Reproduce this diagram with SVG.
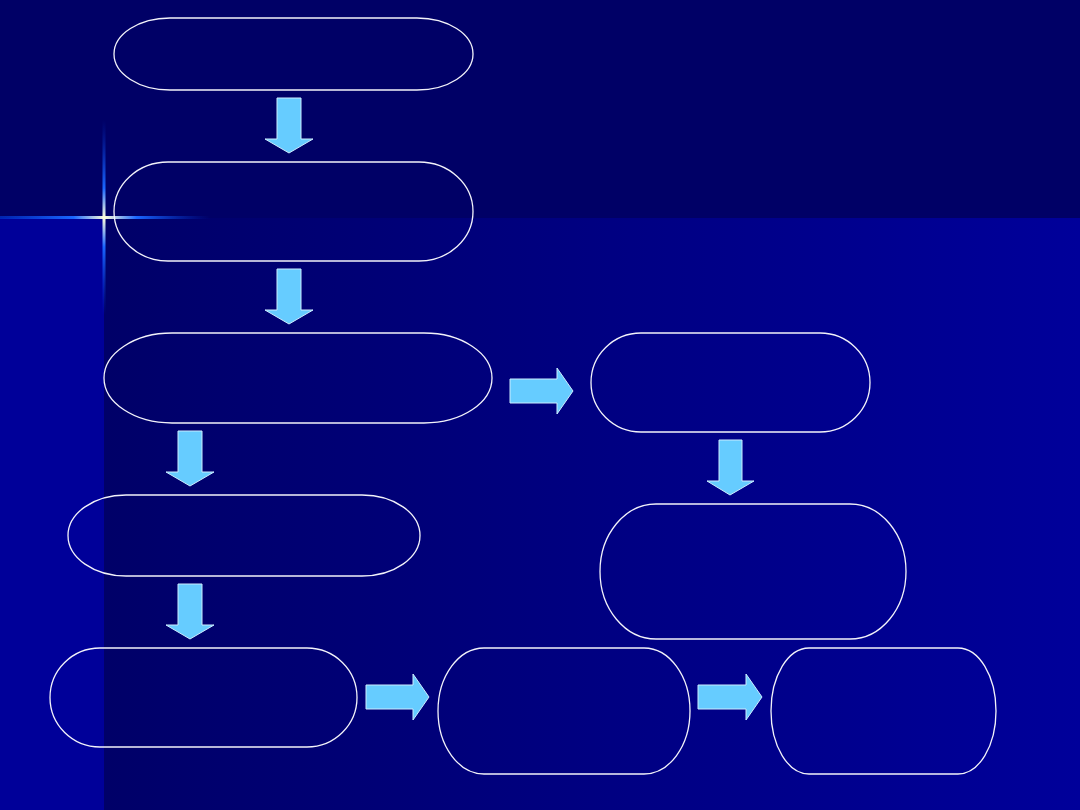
<svg xmlns="http://www.w3.org/2000/svg" width="1080" height="810" viewBox="0 0 1080 810">
<defs>
<linearGradient id="bg" x1="0" y1="0" x2="1" y2="0">
<stop offset="0" stop-color="#000068"/>
<stop offset="1" stop-color="#00009a"/>
</linearGradient>
<linearGradient id="fh" x1="0" y1="0" x2="1" y2="0">
<stop offset="0" stop-color="#0033cc" stop-opacity="0.7"/>
<stop offset="0.35" stop-color="#1a66ff"/>
<stop offset="0.5" stop-color="#ffffdd"/>
<stop offset="0.65" stop-color="#1a66ff"/>
<stop offset="1" stop-color="#0033cc" stop-opacity="0"/>
</linearGradient>
<linearGradient id="fv" x1="0" y1="0" x2="0" y2="1">
<stop offset="0" stop-color="#0033cc" stop-opacity="0"/>
<stop offset="0.35" stop-color="#1a66ff"/>
<stop offset="0.5" stop-color="#ffffdd"/>
<stop offset="0.65" stop-color="#1a66ff"/>
<stop offset="1" stop-color="#0033cc" stop-opacity="0"/>
</linearGradient>
<style>
.n{fill:none;stroke:#f2f2fa;stroke-width:1.3}
.a{fill:#66ccff;stroke:#ccecff;stroke-width:1}
</style>
</defs>
<rect x="0" y="0" width="1080" height="810" fill="#000099"/>
<rect x="104" y="218" width="976" height="592" fill="url(#bg)"/>
<rect x="0" y="0" width="1080" height="218" fill="#000066"/>
<rect x="0" y="216" width="210" height="3" fill="url(#fh)"/>
<rect x="102.5" y="120" width="3" height="195" fill="url(#fv)"/>
<g id="node1"><rect class="n" x="114" y="18" width="359" height="72" rx="56" ry="36"/></g>
<g id="node2"><rect class="n" x="114" y="162" width="359" height="99" rx="54" ry="49.5"/></g>
<g id="node3"><rect class="n" x="104" y="333" width="388" height="90" rx="68" ry="45"/></g>
<g id="node4"><rect class="n" x="68" y="495" width="352" height="81" rx="58" ry="40.5"/></g>
<g id="node5"><rect class="n" x="50" y="648" width="307" height="99" rx="50" ry="49.5"/></g>
<g id="node6"><rect class="n" x="591" y="333" width="279" height="99" rx="50" ry="49.5"/></g>
<g id="node7"><rect class="n" x="600" y="504" width="306" height="135" rx="56" ry="67.5"/></g>
<g id="node8"><rect class="n" x="438" y="648" width="252" height="126" rx="46" ry="63"/></g>
<g id="node9"><rect class="n" x="771" y="648" width="225" height="126" rx="38" ry="63"/></g>
<g id="connectors">
<polygon class="a" points="277,98 301,98 301,139 313,139 289,153 265,139 277,139"/>
<polygon class="a" points="277,269 301,269 301,310 313,310 289,324 265,310 277,310"/>
<polygon class="a" points="178,431 202,431 202,472 214,472 190,486 166,472 178,472"/>
<polygon class="a" points="178,584 202,584 202,625 214,625 190,639 166,625 178,625"/>
<polygon class="a" points="719,440 742,440 742,481 754,481 730,495 707,481 719,481"/>
<polygon class="a" points="510,379 557,379 557,368 573,391 557,414 557,403 510,403"/>
<polygon class="a" points="366,685 413,685 413,674 429,697 413,720 413,709 366,709"/>
<polygon class="a" points="698,685 746,685 746,674 762,697 746,720 746,709 698,709"/>
</g>
</svg>
